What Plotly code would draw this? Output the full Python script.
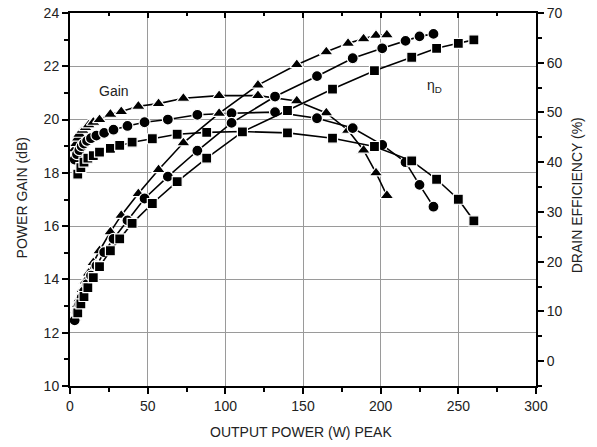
import plotly.graph_objects as go

# ---- data ----
tri_w = [3, 4, 5, 6, 8, 10, 12, 15, 19, 26, 33, 44, 57, 73, 96, 121, 146, 165, 179, 189, 197, 204]
tri_gain = [18.9, 19.1, 19.3, 19.45, 19.6, 19.7, 19.8, 19.9, 20.0, 20.2, 20.3, 20.5, 20.6, 20.8, 20.9, 20.9, 20.7, 20.25, 19.6, 18.85, 18.0, 17.15]
tri_eff = [8.8, 10.2, 11.4, 12.5, 14.4, 16.1, 17.7, 19.8, 22.2, 26.0, 29.3, 33.7, 38.5, 43.9, 49.8, 55.5, 59.6, 62.2, 63.9, 64.8, 65.5, 65.6]

cir_w = [3, 4.5, 6, 7.5, 9, 11, 13.5, 17, 22, 28, 37, 48, 63, 82, 104, 132, 159, 182, 201, 216, 225, 234]
cir_gain = [18.5, 18.7, 18.85, 19.0, 19.1, 19.2, 19.3, 19.4, 19.5, 19.62, 19.76, 19.9, 20.0, 20.18, 20.24, 20.28, 20.05, 19.68, 19.05, 18.4, 17.55, 16.73]
cir_eff = [8.2, 9.9, 11.4, 12.8, 14.0, 15.5, 17.2, 19.2, 21.9, 24.6, 28.3, 32.7, 37.1, 42.3, 47.9, 53.2, 57.3, 60.9, 62.9, 64.4, 65.3, 65.8]

sq_w = [5, 7, 9, 11.5, 15, 19, 26, 32, 40, 53, 69, 88, 111, 140, 169, 196, 220, 236, 250, 260]
sq_gain = [17.95, 18.2, 18.4, 18.55, 18.65, 18.78, 18.92, 19.03, 19.15, 19.28, 19.45, 19.52, 19.55, 19.5, 19.3, 18.99, 18.45, 17.76, 17.01, 16.2]
sq_eff = [9.7, 11.5, 13.0, 14.8, 16.8, 19.0, 22.2, 24.6, 27.7, 31.7, 36.1, 40.8, 46.1, 50.4, 54.7, 58.4, 61.1, 62.9, 63.9, 64.6]

x_title = "OUTPUT POWER (W) PEAK"
y_title = "POWER GAIN (dB)"
y2_title = "DRAIN EFFICIENCY (%)"

FONT = "Liberation Sans, Arial, sans-serif"
TXT = "#222222"

fig = go.Figure()

def add(x, y, sym, size, axis):
    fig.add_trace(go.Scatter(
        x=x, y=y, mode="lines+markers", yaxis=axis, showlegend=False,
        line=dict(color="black", width=1.6),
        marker=dict(symbol=sym, size=size, color="black",
                    line=dict(color="white", width=1.2)),
    ))

add(tri_w, tri_gain, "triangle-up", 12, "y")
add(cir_w, cir_gain, "circle", 11, "y")
add(sq_w, sq_gain, "square", 10, "y")
add(tri_w, tri_eff, "triangle-up", 12, "y2")
add(cir_w, cir_eff, "circle", 11, "y2")
add(sq_w, sq_eff, "square", 10, "y2")

# empty trace to materialise the top (mirror) axis
fig.add_trace(go.Scatter(x=[], y=[], xaxis="x2", yaxis="y", showlegend=False))

axis_common = dict(showline=True, linecolor="black", linewidth=2,
                   tickcolor="black", tickwidth=1.5, zeroline=False, automargin=False,
                   ticklabeloverflow="allow",
                   tickfont=dict(family=FONT, size=14, color=TXT))

fig.update_layout(
    width=597, height=447,
    margin=dict(l=70, r=61, t=13, b=61),
    paper_bgcolor="white", plot_bgcolor="white",
    xaxis=dict(range=[0, 300], tick0=0, dtick=50, ticks="outside", ticklen=6,
               showgrid=True, gridcolor="#9a9a9a", gridwidth=1,
               minor=dict(dtick=25, ticks="outside", ticklen=4, tickcolor="black", showgrid=False),
               **axis_common),
    xaxis2=dict(range=[0, 300], overlaying="x", side="top", anchor="y",
                tick0=0, dtick=50, ticks="inside", ticklen=5, showticklabels=False,
                showgrid=False,
                minor=dict(dtick=25, ticks="inside", ticklen=3, tickcolor="black", showgrid=False),
                **axis_common),
    yaxis=dict(range=[10, 24], tick0=10, dtick=2, ticks="outside", ticklen=6,
               showgrid=True, gridcolor="#9a9a9a", gridwidth=1,
               minor=dict(dtick=1, ticks="outside", ticklen=4, tickcolor="black", showgrid=False),
               **axis_common),
    yaxis2=dict(range=[-5, 70], overlaying="y", side="right", anchor="x",
                tick0=0, dtick=10, ticks="outside", ticklen=6, showgrid=False,
                minor=dict(dtick=5, ticks="outside", ticklen=4, tickcolor="black", showgrid=False),
                **axis_common),
    annotations=[
        dict(text=x_title, xref="paper", yref="paper", x=0.496, y=-0.124,
             xanchor="center", yanchor="middle", showarrow=False,
             font=dict(family=FONT, size=14, color=TXT)),
        dict(text=y_title, xref="paper", yref="paper", x=-0.103, y=0.503,
             xanchor="center", yanchor="middle", showarrow=False, textangle=-90,
             font=dict(family=FONT, size=14, color=TXT)),
        dict(text=y2_title, xref="paper", yref="paper", x=1.087, y=0.51,
             xanchor="center", yanchor="middle", showarrow=False, textangle=-90,
             font=dict(family=FONT, size=14, color=TXT)),
        dict(text="Gain", xref="x", yref="y", x=28.3, y=21.08, showarrow=False,
             xanchor="center", yanchor="middle",
             font=dict(family=FONT, size=14, color=TXT)),
        dict(text="η<sub>D</sub>", xref="x", yref="y", x=234.5, y=21.27, showarrow=False,
             xanchor="center", yanchor="middle",
             font=dict(family=FONT, size=14, color=TXT)),
    ],
)

# remove the default 8 px body margin so the figure sits at the page origin
fig.write_html("out.html", config={"displayModeBar": False},
               post_script="document.body.style.margin='0';")
